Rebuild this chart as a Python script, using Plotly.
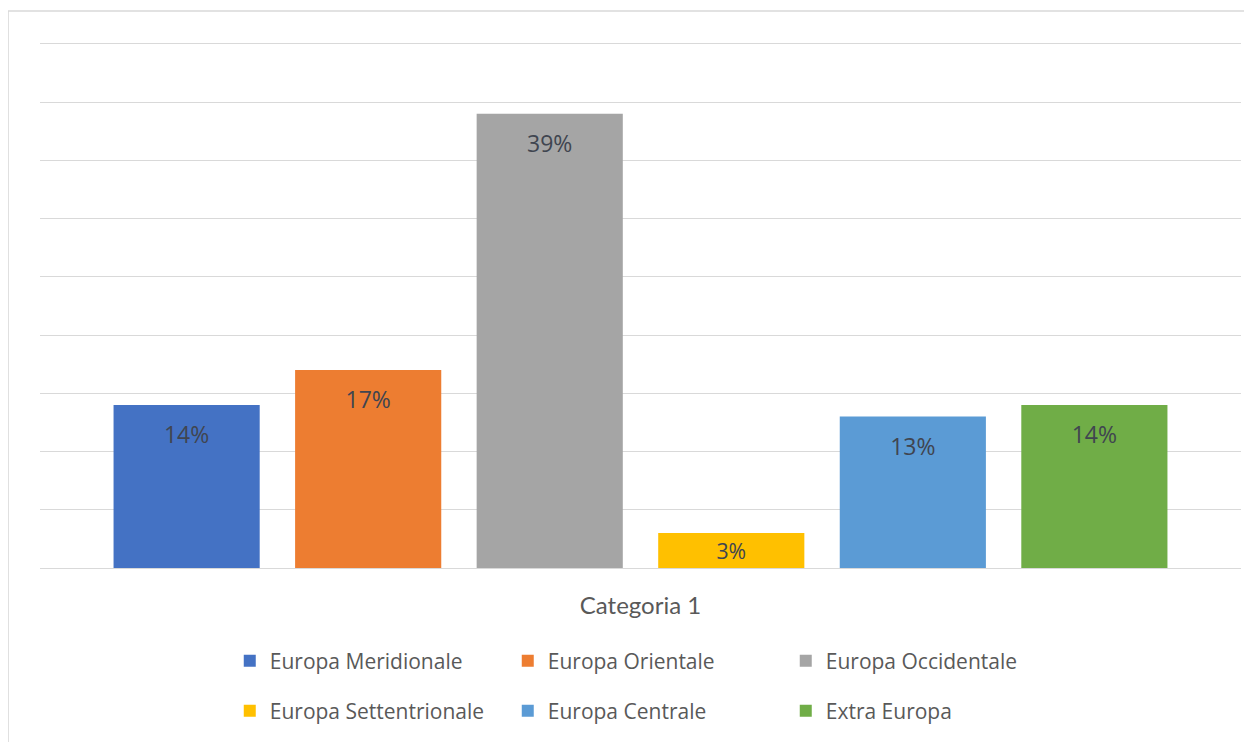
import plotly.graph_objects as go

category = ["Categoria 1"]
regions = ["Europa Meridionale", "Europa Orientale", "Europa Occidentale",
           "Europa Settentrionale", "Europa Centrale", "Extra Europa"]
values = [14, 17, 39, 3, 13, 14]
colors = ["#4472C4", "#ED7D31", "#A5A5A5", "#FFC000", "#5B9BD5", "#70AD47"]
legend_rows = ["legend", "legend", "legend", "legend2", "legend2", "legend2"]

fig = go.Figure()
for name, v, c, lg in zip(regions, values, colors, legend_rows):
    if v < 5:
        label = f"<span style='font-size:22px'>{v}%</span>"
    else:
        label = f"&nbsp;<br><span style='font-size:23px'>{v}%</span>"
    fig.add_trace(go.Bar(
        x=category, y=[v], name=name,
        marker=dict(color=c, line=dict(width=0)),
        text=[label], textposition="inside", insidetextanchor="end",
        textangle=0,
        textfont=dict(family="Open Sans", size=15, color="#404550"),
        legend=lg, hoverinfo="skip",
    ))

fig.update_layout(
    width=1244, height=734, autosize=False,
    margin=dict(l=32, r=11, t=30, b=174),
    paper_bgcolor="white", plot_bgcolor="white",
    barmode="group", bargap=0.093, bargroupgap=0.195,
    font=dict(family="Open Sans", color="#595959"),
    xaxis=dict(showgrid=False, showline=False, ticks="", zeroline=False,
               tickfont=dict(family="Lato", size=24, color="#595959"),
               ticklabelstandoff=21),
    yaxis=dict(range=[0, 45.5], dtick=5, showticklabels=False, ticks="",
               gridcolor="#d9d9d9", gridwidth=1, zeroline=True,
               zerolinecolor="#d9d9d9", zerolinewidth=1, showline=False),
    legend=dict(orientation="h", x=0.158, xanchor="left", y=-0.1755,
                yanchor="middle", entrywidth=233, entrywidthmode="pixels",
                font=dict(family="Open Sans", size=21, color="#595959"),
                itemclick=False, itemdoubleclick=False),
    legend2=dict(orientation="h", x=0.158, xanchor="left", y=-0.2698,
                 yanchor="middle", entrywidth=233, entrywidthmode="pixels",
                 font=dict(family="Open Sans", size=21, color="#595959"),
                 itemclick=False, itemdoubleclick=False),
    shapes=[dict(type="rect", xref="paper", yref="paper",
                 x0=-0.0266, x1=1.05, y0=-0.5, y1=1.051,
                 line=dict(color="#d9d9d9", width=1.5), layer="below")],
    showlegend=True,
)

fig.write_html("out.html")
